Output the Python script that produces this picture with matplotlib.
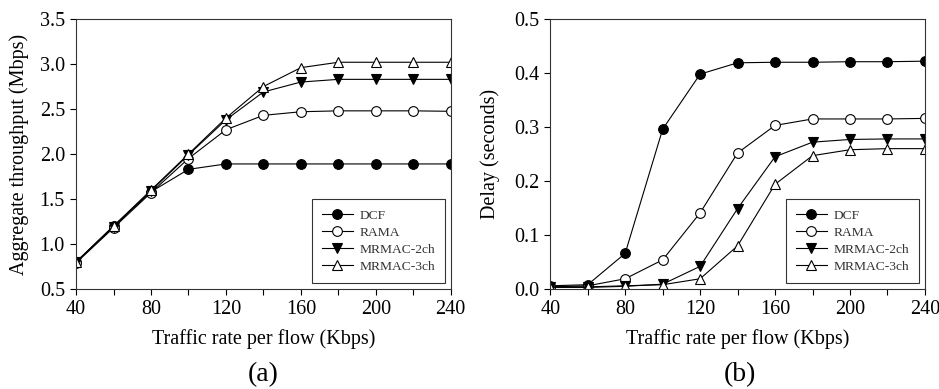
import numpy as np
import matplotlib
matplotlib.use("Agg")
import matplotlib.pyplot as plt

plt.rcParams.update({"font.family": "Liberation Serif", "font.size": 14.5,
                     "axes.linewidth": 0.8})

rate = [40, 60, 80, 100, 120, 140, 160, 180, 200, 220, 240]
labels = ["DCF", "RAMA", "MRMAC-2ch", "MRMAC-3ch"]

# (a) aggregate throughput (Mbps)
thr_dcf = [0.80, 1.20, 1.58, 1.83, 1.89, 1.89, 1.89, 1.89, 1.89, 1.89, 1.89]
thr_rama = [0.79, 1.18, 1.57, 1.95, 2.27, 2.43, 2.47, 2.48, 2.48, 2.48, 2.475]
thr_2ch = [0.80, 1.19, 1.59, 1.99, 2.38, 2.69, 2.80, 2.83, 2.83, 2.83, 2.83]
thr_3ch = [0.80, 1.20, 1.60, 2.00, 2.40, 2.75, 2.96, 3.02, 3.02, 3.02, 3.02]

# (b) delay (seconds)
del_dcf = [0.006, 0.008, 0.066, 0.296, 0.398, 0.419, 0.420, 0.420, 0.421, 0.421, 0.422]
del_rama = [0.004, 0.006, 0.019, 0.054, 0.141, 0.252, 0.303, 0.315, 0.315, 0.315, 0.316]
del_2ch = [0.003, 0.003, 0.005, 0.009, 0.042, 0.149, 0.245, 0.272, 0.277, 0.278, 0.278]
del_3ch = [0.004, 0.004, 0.006, 0.008, 0.019, 0.080, 0.194, 0.247, 0.258, 0.260, 0.260]

styles = [dict(marker="o", mfc="black"), dict(marker="o", mfc="white"),
          dict(marker="v", mfc="black"), dict(marker="^", mfc="white")]

fig = plt.figure(figsize=(9.39, 3.89), dpi=100)
ax1 = fig.add_axes([0.081, 0.257, 0.399, 0.694])
ax2 = fig.add_axes([0.586, 0.257, 0.399, 0.694])


def draw(ax, series):
    for y, lab, st in zip(series, labels, styles):
        ax.plot(rate, y, color="black", lw=0.8, ms=7, mec="black", mew=0.8,
                label=lab, **st)
    ax.set_xlim(40, 240)
    ax.set_xticks(np.arange(40, 241, 20))
    ax.set_xticklabels([str(v) if v % 40 == 0 else "" for v in range(40, 241, 20)])
    ax.tick_params(direction="out", length=4, width=0.8, pad=4)
    ax.set_xlabel("Traffic rate per flow (Kbps)", labelpad=7)
    for sp in ax.spines.values():
        sp.set_color("#333333")
    leg = ax.legend(loc="lower right", bbox_to_anchor=(0.985, 0.022), fontsize=9.7,
                    frameon=True, fancybox=False, edgecolor="black",
                    handlelength=2.3, handletextpad=0.5, borderpad=0.75,
                    labelspacing=0.35, borderaxespad=0)
    leg.get_frame().set_linewidth(0.8)
    for t in leg.get_texts():
        t.set_color("#333333")


draw(ax1, [thr_dcf, thr_rama, thr_2ch, thr_3ch])
ax1.set_ylim(0.5, 3.5)
ax1.set_yticks(np.arange(0.5, 3.51, 0.5))
ax1.set_yticklabels([f"{v:.1f}" for v in np.arange(0.5, 3.51, 0.5)])
ax1.set_ylabel("Aggregate throughput (Mbps)", labelpad=8)

draw(ax2, [del_dcf, del_rama, del_2ch, del_3ch])
ax2.set_ylim(0, 0.5)
ax2.set_yticks(np.arange(0, 0.51, 0.1))
ax2.set_yticklabels([f"{v:.1f}" for v in np.arange(0, 0.51, 0.1)])
ax2.set_ylabel("Delay (seconds)", labelpad=10)

fig.text(0.280, 0.036, "(a)", ha="center", va="center", fontsize=20)
fig.text(0.788, 0.036, "(b)", ha="center", va="center", fontsize=20)

fig.savefig("out.png", dpi=100)
